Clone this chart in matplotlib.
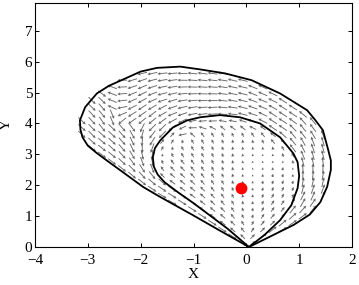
import numpy as np
import matplotlib
matplotlib.use("Agg")
import matplotlib.pyplot as plt
from matplotlib.path import Path

# curves (closed loops through the corner near the origin)
outer_x = [0.05, 0.5, 0.9, 1.2, 1.4, 1.53, 1.6, 1.6, 1.55, 1.45, 1.3, 1.15, 0.64, 0.1, -0.4,
           -0.875, -1.25, -1.69, -2.0, -2.26, -2.6, -2.83, -3.05, -3.15, -3.14, -3.1, -3.0,
           -2.83, -2.6, -2.39, -1.95, -1.63, -1.0, -0.5, 0.05]
outer_y = [0.0, 0.38, 0.72, 1.05, 1.45, 1.95, 2.5, 2.8, 3.14, 3.78, 4.12, 4.43, 4.97, 5.4, 5.62,
           5.75, 5.84, 5.8, 5.68, 5.48, 5.22, 4.97, 4.53, 4.1, 3.8, 3.55, 3.28,
           3.04, 2.75, 2.49, 1.94, 1.62, 1.02, 0.53, 0.0]
inner_x = [0.05, 0.35, 0.64, 0.85, 0.97, 1.0, 0.97, 0.89, 0.64, 0.26, -0.12, -0.5, -0.875,
           -1.12, -1.39, -1.63, -1.73, -1.77, -1.75, -1.68, -1.55, -1.3, -1.0, -0.36, 0.05]
inner_y = [0.0, 0.4, 0.87, 1.35, 1.9, 2.3, 2.75, 3.03, 3.55, 4.0, 4.2, 4.27, 4.2,
           4.1, 3.87, 3.45, 3.2, 2.9, 2.6, 2.35, 2.1, 1.78, 1.42, 0.6, 0.0]
dot_x, dot_y = -0.1, 1.9
x_ticks = [-4, -3, -2, -1, 0, 1, 2]
y_ticks = [0, 1, 2, 3, 4, 5, 6, 7]

# pixels per data unit on screen (used so arrow angles look right)
kx, ky = 52.8, 30.9


def dense(xs, ys, n=800):
    p = np.column_stack([np.array(xs) * kx, np.array(ys) * ky])
    s = np.concatenate([[0], np.cumsum(np.hypot(*np.diff(p, axis=0).T))])
    t = np.linspace(0, s[-1], n)
    q = np.column_stack([np.interp(t, s, p[:, 0]), np.interp(t, s, p[:, 1])])
    d = np.roll(q, -8, axis=0) - np.roll(q, 8, axis=0)
    ang = np.arctan2(d[:, 1], d[:, 0])
    return q, ang


def nearest(q, ang, pt):
    dd = np.hypot(q[:, 0] - pt[0], q[:, 1] - pt[1])
    i = np.argmin(dd)
    return dd[i], ang[i]


def axial_mean(angles, weights):
    c = sum(w * np.cos(2 * a) for a, w in zip(angles, weights))
    s = sum(w * np.sin(2 * a) for a, w in zip(angles, weights))
    return 0.5 * np.arctan2(s, c)


q_out, a_out = dense(outer_x, outer_y)
q_in, a_in = dense(inner_x, inner_y)
path_out = Path(np.column_stack([outer_x, outer_y]))
path_in = Path(np.column_stack([inner_x, inner_y]))

vx, vy = 0.05 * kx, 0.0
cx, cy = -0.8 * kx, 3.2 * ky
L = 10.0

X, Y, U, V = [], [], [], []
for gx in np.arange(-3.3, 1.7, 0.19):
    for gy in np.arange(0.12, 6.0, 0.22):
        if not path_out.contains_point((gx, gy)):
            continue
        pt = (gx * kx, gy * ky)
        d_i, t_i = nearest(q_in, a_in, pt)
        d_o, t_o = nearest(q_out, a_out, pt)
        rad = np.arctan2(pt[1] - vy, pt[0] - vx)
        if path_in.contains_point((gx, gy)):
            w = np.exp(-d_i / 18.0)
            phi = axial_mean([t_i, rad], [w, 1 - w])
            dx, dy = np.cos(phi), np.sin(phi)
            if dx * (pt[0] - vx) + dy * (pt[1] - vy) < 0:
                dx, dy = -dx, -dy
            m = 0.2 + 0.65 * abs(dx)
        else:
            # wide left part of the band: arrows cut across towards upper left
            wr = np.clip((-1.6 - gx) / 1.4, 0, 1) * np.clip((gy - 2.6) / 1.2, 0, 1) * 0.8
            phi = axial_mean([t_i, t_o, rad],
                             [(1 - wr) / (d_i + 1), (1 - wr) / (d_o + 1),
                              wr * (1 / (d_i + 1) + 1 / (d_o + 1))])
            dx, dy = np.cos(phi), np.sin(phi)
            if (pt[0] - cx) * dy - (pt[1] - cy) * dx < 0:
                dx, dy = -dx, -dy
            m = 1.0
        X.append(gx)
        Y.append(gy)
        U.append(dx * L * m)
        V.append(dy * L * m)

plt.rcParams["font.family"] = ["Liberation Serif", "DejaVu Serif"]
plt.rcParams["font.size"] = 11

fig = plt.figure(figsize=(3.59, 2.85), dpi=100)
ax = fig.add_axes([35 / 359, 38 / 285, 317 / 359, 244 / 285])

ax.quiver(X, Y, U, V, angles="uv", scale_units="dots", scale=1, units="dots",
          width=0.9, headwidth=3.5, headlength=3.5, headaxislength=3,
          color="0.4", pivot="middle")
ax.plot(outer_x, outer_y, color="black", lw=1.3)
ax.plot(inner_x, inner_y, color="black", lw=1.3)
ax.plot([dot_x], [dot_y], "o", color="red", ms=7.5, mec="red")

ax.set_xlim(-4, 2)
ax.set_ylim(0, 7.9)
ax.set_xticks(x_ticks)
ax.set_yticks(y_ticks)
ax.set_xticklabels([str(v).replace("-", "\u2212") for v in x_ticks])
ax.tick_params(direction="in", top=True, right=True, length=3, width=0.7)
ax.tick_params(axis="x", pad=5)
ax.tick_params(axis="y", pad=2)
for sp in ax.spines.values():
    sp.set_linewidth(0.8)

ax.set_xlabel("X")
ax.set_ylabel("Y")
ax.xaxis.set_label_coords(0.5, -0.086)
ax.yaxis.set_label_coords(-0.069, 0.5)

plt.savefig("out.png", dpi=100)
